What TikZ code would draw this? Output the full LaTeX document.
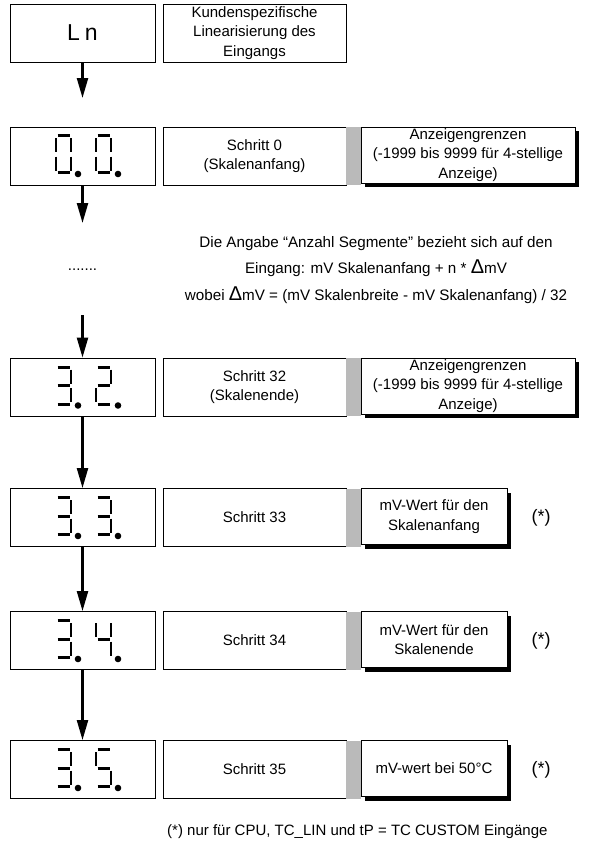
\documentclass[tikz,border=0pt]{standalone}
\usepackage{fontspec}
\setmainfont{Liberation Sans}
\usetikzlibrary{arrows.meta,shadows}
\def\ssega{\draw[hseg] (1.5,0)--(13.5,0);}
\def\ssegb{\draw[vseg] (15,2.5)--(15,16.5);}
\def\ssegc{\draw[vseg] (15,21)--(15,35);}
\def\ssegd{\draw[hseg] (1.5,37)--(13.5,37);}
\def\ssege{\draw[vseg] (0,21)--(0,35);}
\def\ssegf{\draw[vseg] (0,2.5)--(0,16.5);}
\def\ssegg{\draw[hseg] (1.5,18.5)--(13.5,18.5);}
\newcommand\sevdigit[3]{%
  \begin{scope}[shift={(#1,#2)}]
    \foreach \s in {#3} {\csname sseg\s\endcsname}
    \fill (22,38.5) circle (3.3pt);
  \end{scope}}
\begin{document}
\begin{tikzpicture}[x=1pt,y=-1pt,
  hseg/.style={line width=3pt},
  vseg/.style={line width=2.6pt},
  box/.style={draw=black, line width=0.9pt, fill=white, inner sep=0pt, align=center,
    font=\fontsize{15}{19.5}\selectfont},
  dispbox/.style={box, minimum width=145pt, minimum height=58pt},
  stepbox/.style={box, minimum width=183pt, minimum height=58pt},
  stripbox/.style={draw=none, fill=black!27, minimum width=15pt, minimum height=58pt, inner sep=0pt},
  shadowbox/.style={box, minimum height=56pt,
    drop shadow={shadow xshift=4pt, shadow yshift=-4pt, opacity=1, fill=black}},
  widebox/.style={shadowbox, minimum width=214pt},
  narrowbox/.style={shadowbox, minimum width=146pt},
  arr/.style={line width=2.3pt, -{Triangle[length=20pt,width=11pt]}},
  txt/.style={inner sep=0pt, align=center, font=\fontsize{15}{19.5}\selectfont},
  astlbl/.style={inner sep=0pt, font=\fontsize{18}{18}\selectfont}
]
\useasboundingbox (0,0) rectangle (599,843);
\fill[white] (0,0) rectangle (599,843);

% Row 0
\node[dispbox] (ln) at (82.5,33) {\fontsize{23}{23}\selectfont L\hspace{5pt}n};
\node[stepbox] (desc) at (254.5,33) {Kundenspezifische\\Linearisierung des\\Eingangs};
\coordinate (a1end) at (82.5,98);
\draw[arr] (ln.south) -- (a1end);

% Row 1
\node[dispbox] (d1) at (82.5,156) {};
\node[stepbox] (s1) at (254.5,156) {Schritt 0\\(Skalenanfang)};
\node[stripbox] (p1) at (353.5,156) {};
\node[widebox] (r1) at (468,155) {Anzeigengrenzen\\(-1999 bis 9999 für 4-stellige\\Anzeige)};
\sevdigit{56}{135.5}{a,b,c,d,e,f}
\sevdigit{96}{135.5}{a,b,c,d,e,f}
\coordinate (a2end) at (82.5,223);
\draw[arr] (d1.south) -- (a2end);

% Info text
\node[txt, font=\fontsize{15}{15}\selectfont] (dots) at (82.5,270) {.......};
\node[txt, font=\fontsize{15.2}{26.5}\selectfont] (info) at (376,270)
  {Die Angabe “Anzahl Segmente” bezieht sich auf den\\
   Eingang: mV Skalenanfang + n * {\fontsize{20}{20}\selectfont Δ}mV\\
   wobei {\fontsize{20}{20}\selectfont Δ}mV = (mV Skalenbreite - mV Skalenanfang) / 32};

% Row 2
\coordinate (a3start) at (82.5,315);
\node[dispbox] (d2) at (82.5,387) {};
\node[stepbox] (s2) at (254.5,387) {Schritt 32\\(Skalenende)};
\node[stripbox] (p2) at (353.5,387) {};
\node[widebox] (r2) at (468,386) {Anzeigengrenzen\\(-1999 bis 9999 für 4-stellige\\Anzeige)};
\sevdigit{56}{367}{a,b,g,c,d}
\sevdigit{96}{367}{a,b,g,e,d}
\draw[arr] (a3start) -- (d2.north);

% Row 3
\node[dispbox] (d3) at (82.5,517.5) {};
\node[stepbox] (s3) at (254.5,517.5) {Schritt 33};
\node[stripbox] (p3) at (353.5,517.5) {};
\node[narrowbox] (r3) at (434,516.5) {mV-Wert für den\\Skalenanfang};
\node[astlbl] (x3) at (541,517.5) {(*)};
\sevdigit{56}{497.5}{a,b,g,c,d}
\sevdigit{96}{497.5}{a,b,g,c,d}
\draw[arr] (d2.south) -- (d3.north);

% Row 4
\node[dispbox] (d4) at (82.5,640.5) {};
\node[stepbox] (s4) at (254.5,640.5) {Schritt 34};
\node[stripbox] (p4) at (353.5,640.5) {};
\node[narrowbox] (r4) at (434,639.5) {mV-Wert für den\\Skalenende};
\node[astlbl] (x4) at (541,640.5) {(*)};
\sevdigit{56}{620.5}{a,b,g,c,d}
\sevdigit{96}{620.5}{f,b,g,c}
\draw[arr] (d3.south) -- (d4.north);

% Row 5
\node[dispbox] (d5) at (82.5,769.5) {};
\node[stepbox] (s5) at (254.5,769.5) {Schritt 35};
\node[stripbox] (p5) at (353.5,769.5) {};
\node[narrowbox] (r5) at (434,768.5) {mV-wert bei 50°C};
\node[astlbl] (x5) at (541,769.5) {(*)};
\sevdigit{56}{749.5}{a,b,g,c,d}
\sevdigit{96}{749.5}{a,f,g,c,d}
\draw[arr] (d4.south) -- (d5.north);

% Footnote
\node[txt, anchor=west] (fn) at (167,832) {(*) nur für CPU, TC\_LIN und tP = TC CUSTOM Eingänge};
\end{tikzpicture}
\end{document}
